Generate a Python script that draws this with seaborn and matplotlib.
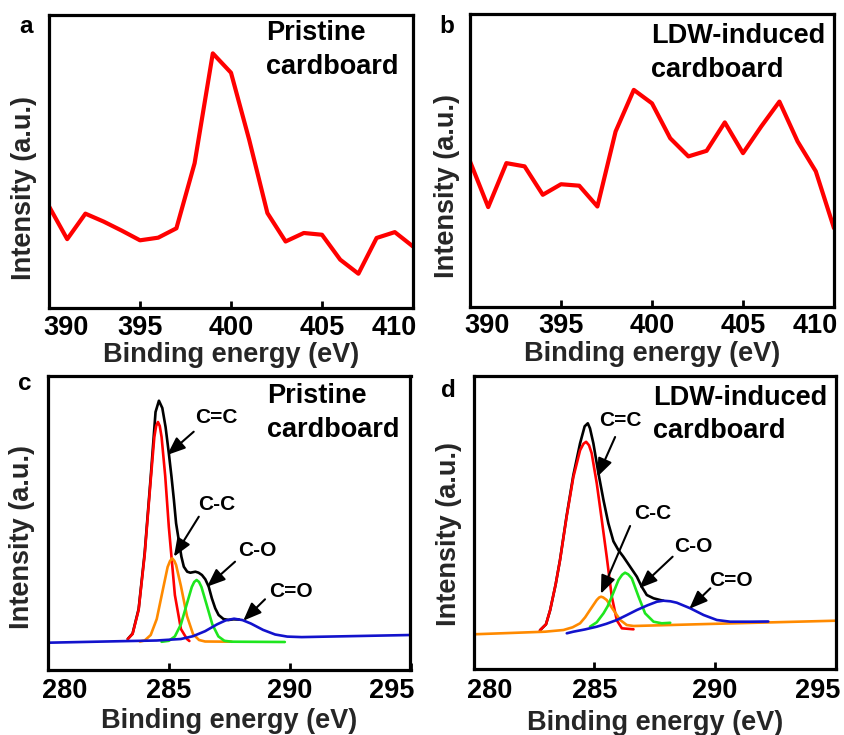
import matplotlib
matplotlib.use("Agg")
import matplotlib.pyplot as plt
import matplotlib.transforms as mtransforms
import seaborn as sns

# ---------------- data ----------------
# panels a / b : N 1s survey (arbitrary intensity units, 0-100 of the axes height)
n1s_energy = [390, 391, 392, 393, 394, 395, 396, 397, 398, 399, 400,
              401, 402, 403, 404, 405, 406, 407, 408, 409, 410]
pristine_n1s = [34.7, 23.5, 32.2, 29.5, 26.4, 23.1, 24.0, 27.2, 49.4, 86.9, 80.3,
                57.4, 32.4, 22.7, 25.6, 25.0, 16.5, 11.7, 23.9, 25.9, 21.0]
ldw_n1s = [49.7, 34.1, 49.1, 48.0, 38.3, 41.9, 41.4, 34.3, 59.9, 74.1, 69.5,
           57.6, 51.4, 53.3, 63.0, 52.5, 61.6, 70.1, 56.5, 46.3, 26.9]

# panel c : C 1s, pristine cardboard (arbitrary units)
c_env_x = [283.3, 283.5, 283.75, 284.0, 284.25, 284.45, 284.59, 284.73, 284.865, 285.0,
           285.11, 285.21, 285.3, 285.41, 285.52, 285.62, 285.76, 285.89, 286.1, 286.23,
           286.37, 286.51, 286.65, 286.78, 286.92, 287.06, 287.26, 287.47, 287.67, 287.9]
c_env_y = [31, 36.5, 61, 117, 193, 258, 269.3, 262, 243, 216.7,
           193.3, 170, 146.7, 130, 113.3, 103.3, 98.3, 97.3, 98.3, 97.3,
           95, 90.7, 83.3, 71.7, 61.7, 55, 51, 50, 50.7, 50.5]
c_cc2_x = [283.3, 283.5, 283.75, 284.0, 284.25, 284.4, 284.475, 284.55, 284.625, 284.7,
           284.85, 285.0, 285.25, 285.5, 285.75, 285.85]
c_cc2_y = [31, 36, 60, 115, 190, 233, 244, 248, 244, 233, 194, 143, 75, 41, 31, 29]
c_cc1_x = [283.8, 284.0, 284.25, 284.5, 284.75, 284.95, 285.05, 285.14, 285.23, 285.3,
           285.5, 285.75, 286.0, 286.25, 286.5, 287.6]
c_cc1_y = [28.5, 29.5, 35, 51, 80, 103, 109, 111.7, 109, 105, 84, 54, 36, 30, 28.5, 28.3]
c_co_x = [284.7, 285.0, 285.25, 285.5, 285.75, 285.95, 286.05, 286.15, 286.25, 286.35,
          286.55, 286.8, 287.05, 287.3, 287.6, 289.8]
c_co_y = [28.2, 29.2, 33.6, 45.6, 66.5, 83, 88, 90, 88, 83, 66.5, 45.6, 33.6, 29.2, 28.3, 28]
c_cdo_x = [280, 283, 284.5, 285.5, 286.0, 286.5, 287.0, 287.35, 287.7, 288.05, 288.4,
           288.9, 289.4, 289.9, 290.5, 295]
c_cdo_y = [27.3, 28.8, 29.5, 31, 33.8, 38.8, 45.7, 49.6, 51.3, 49.9, 46.4,
           40.1, 35.5, 33.4, 32.9, 35]

# panel d : C 1s, LDW-induced cardboard (arbitrary units)
d_env_x = [282.75, 283.0, 283.17, 283.4, 283.58, 283.85, 284.13, 284.41, 284.6, 284.73,
           284.82, 284.96, 285.17, 285.38, 285.58, 285.79, 286.0, 286.2, 286.48, 286.76,
           286.96, 287.17, 287.45, 287.72, 287.86]
d_env_y = [39, 45, 59, 85, 109.5, 153, 194, 226, 243, 246,
           241, 226, 196, 169, 146, 128, 119, 112.6, 102.6, 92.6,
           82.6, 74.3, 71, 69.3, 68.6]
d_cc2_x = [282.75, 283.0, 283.17, 283.4, 283.58, 283.85, 284.13, 284.41, 284.55, 284.66,
           284.78, 284.89, 285.1, 285.31, 285.51, 285.72, 285.93, 286.14, 286.62]
d_cc2_y = [39, 45, 59, 85, 109, 152, 192, 219, 225.5, 227.5,
           224, 216, 186, 149, 113, 73, 49, 41, 40]
d_cc1_x = [280.0, 281.5, 282.96, 283.72, 284.1, 284.41, 284.62, 284.82, 285.1, 285.2,
           285.28, 285.37, 285.51, 285.79, 286.07, 286.34, 286.62, 290.0, 295.0]
d_cc1_y = [35, 36.3, 37.6, 39.3, 42, 46, 52, 59.3, 69.3, 71.8,
           72.6, 71.8, 69.3, 59.3, 49.3, 44.3, 43.3, 45.5, 48.6]
d_co_x = [284.82, 285.1, 285.38, 285.55, 285.72, 286.0, 286.15, 286.27, 286.4, 286.55,
          286.83, 287.1, 287.45, 287.79, 288.14]
d_co_y = [42.6, 47, 56, 63, 72.6, 89.3, 94.5, 96.6, 95, 91, 72.6, 56, 47.6, 46, 46.5]
d_cdo_x = [283.86, 284.13, 284.6, 285.1, 285.5, 285.93, 286.35, 286.76, 287.2, 287.59,
           287.86, 288.15, 288.41, 288.97, 289.52, 290.07, 290.62, 291.45, 292.2]
d_cdo_y = [36, 37.6, 39.8, 42.6, 45.5, 49.3, 54.3, 59.3, 64, 67.6,
           68.6, 68, 66.6, 61, 54.3, 49.3, 47.6, 47.6, 47.8]

# tick values
n1s_ticks = [390, 395, 400, 405, 410]
c1s_ticks = [280, 285, 290, 295]

# peak labels: (label, text position, arrow tail, arrow tip) in data units
peak_names = ["C=C", "C-C", "C-O", "C=O"]
c_label_pos = [(286.97, 252.3), (286.99, 165.7), (288.67, 120), (290.05, 78.3)]
c_arrow_tail = [(286.03, 238.3), (286.24, 153.3), (287.74, 108.3), (288.98, 70.7)]
c_arrow_tip = [(284.93, 215), (285.21, 113.3), (286.58, 83.3), (288.08, 49.3)]
d_label_pos = [(286.09, 249.3), (287.41, 156), (289.1, 122.6), (290.66, 89.3)]
d_arrow_tail = [(285.86, 232.3), (286.48, 143.3), (288.24, 112.6), (289.8, 81)]
d_arrow_tip = [(285.13, 192.6), (285.27, 75.5), (286.85, 81), (288.93, 60.5)]

# ---------------- style ----------------
sns.set_theme(style="white")
plt.rcParams["font.family"] = ["Liberation Sans", "DejaVu Sans"]
plt.rcParams["font.weight"] = "bold"
plt.rcParams["axes.labelweight"] = "bold"

W, H = 845, 735
fig = plt.figure(figsize=(W / 100, H / 100), dpi=100)
fig.patch.set_facecolor("white")


def axes_px(left, top, right, bottom):
    return fig.add_axes([left / W, 1 - bottom / H, (right - left) / W, (bottom - top) / H])


RED = "#ff0000"
ORANGE = "#ff8a00"
GREEN = "#1ee61e"
BLUE = "#1212cc"
BLACK = "#000000"
LABEL_FS = 19.5
COMP_LW = 1.9


def style_axes(ax, xlim, ticks, ylim, ylab_x, ylab_y, xlab_y, pad):
    ax.set_xlim(*xlim)
    ax.set_ylim(*ylim)
    ax.set_xticks(ticks)
    ax.set_xticklabels([str(t) for t in ticks])
    ax.set_yticks([])
    ax.set_facecolor("white")
    for s in ax.spines.values():
        s.set_visible(True)
        s.set_color("black")
        s.set_linewidth(2.3)
    ax.tick_params(axis="x", direction="in", length=5, width=2.0, colors="black",
                   bottom=True, top=False, labelsize=LABEL_FS, pad=pad)
    ax.set_xlabel("Binding energy (eV)", fontsize=LABEL_FS, fontweight="bold")
    ax.set_ylabel("Intensity (a.u.)", fontsize=LABEL_FS, fontweight="bold")
    ax.xaxis.set_label_coords(0.5, xlab_y)
    ax.yaxis.set_label_coords(ylab_x, ylab_y)
    labels = ax.get_xticklabels()
    labels[0].set_ha("left")
    labels[0].set_transform(labels[0].get_transform() +
                            mtransforms.ScaledTranslation(-6 / 100, 0, fig.dpi_scale_trans))
    labels[-1].set_ha("right")
    labels[-1].set_transform(labels[-1].get_transform() +
                             mtransforms.ScaledTranslation(4 / 100, 0, fig.dpi_scale_trans))


def line(ax, x, y, color, lw):
    sns.lineplot(x=x, y=y, ax=ax, color=color, linewidth=lw, estimator=None,
                 sort=False, legend=False)


def fig_text(x, y, s, size):
    fig.text(x / W, 1 - y / H, s, fontsize=size, fontweight="bold",
             ha="left", va="baseline", color="black")


# ---------------- panel a ----------------
ax_a = axes_px(49, 15, 413, 308)
line(ax_a, n1s_energy, pristine_n1s, RED, 3.0)
style_axes(ax_a, (390, 410), n1s_ticks, (0, 100), -0.033, 0.409, -0.116, 5)

# ---------------- panel b ----------------
ax_b = axes_px(470, 14, 834, 307)
line(ax_b, n1s_energy, ldw_n1s, RED, 3.0)
style_axes(ax_b, (390, 410), n1s_ticks, (0, 100), -0.027, 0.413, -0.116, 4.5)

# ---------------- panel c ----------------
ax_c = axes_px(48, 376, 410.5, 670)
line(ax_c, c_env_x, c_env_y, BLACK, COMP_LW)
line(ax_c, c_cc2_x, c_cc2_y, RED, COMP_LW)
line(ax_c, c_cc1_x, c_cc1_y, ORANGE, COMP_LW)
line(ax_c, c_co_x, c_co_y, GREEN, COMP_LW)
line(ax_c, c_cdo_x, c_cdo_y, BLUE, COMP_LW)
style_axes(ax_c, (280, 295), c1s_ticks, (0, 294), -0.036, 0.452, -0.13, 5.5)

# ---------------- panel d ----------------
ax_d = axes_px(473.5, 376, 836, 669.3)
line(ax_d, d_env_x, d_env_y, BLACK, COMP_LW)
line(ax_d, d_cc2_x, d_cc2_y, RED, COMP_LW)
line(ax_d, d_cc1_x, d_cc1_y, ORANGE, COMP_LW)
line(ax_d, d_co_x, d_co_y, GREEN, COMP_LW)
line(ax_d, d_cdo_x, d_cdo_y, BLUE, COMP_LW)
style_axes(ax_d, (280, 295), c1s_ticks, (0, 293.3), -0.033, 0.46, -0.14, 6)

# peak annotations
for ax, pos, tail, tip in [(ax_c, c_label_pos, c_arrow_tail, c_arrow_tip),
                           (ax_d, d_label_pos, d_arrow_tail, d_arrow_tip)]:
    for name, p, t0, t1 in zip(peak_names, pos, tail, tip):
        ax.text(p[0], p[1], name, fontsize=15, fontweight="bold", ha="center",
                va="center", color="black")
        ax.annotate("", xy=t1, xytext=t0,
                    arrowprops=dict(arrowstyle="-|>,head_length=0.55,head_width=0.22",
                                    color="black", lw=1.5, shrinkA=0, shrinkB=0,
                                    mutation_scale=20))

# panel titles and letters
fig_text(266, 40, "Pristine", LABEL_FS)
fig_text(266, 74, "cardboard", LABEL_FS)
fig_text(651, 43, "LDW-induced", LABEL_FS)
fig_text(651, 77, "cardboard", LABEL_FS)
fig_text(267, 403, "Pristine", LABEL_FS)
fig_text(267, 437, "cardboard", LABEL_FS)
fig_text(653, 405, "LDW-induced", LABEL_FS)
fig_text(653, 438, "cardboard", LABEL_FS)

fig_text(19, 33, "a", 17.5)
fig_text(439, 33, "b", 17.5)
fig_text(18, 390, "c", 17.5)
fig_text(441, 397, "d", 17.5)

fig.savefig("out.png", dpi=100, facecolor="white")
